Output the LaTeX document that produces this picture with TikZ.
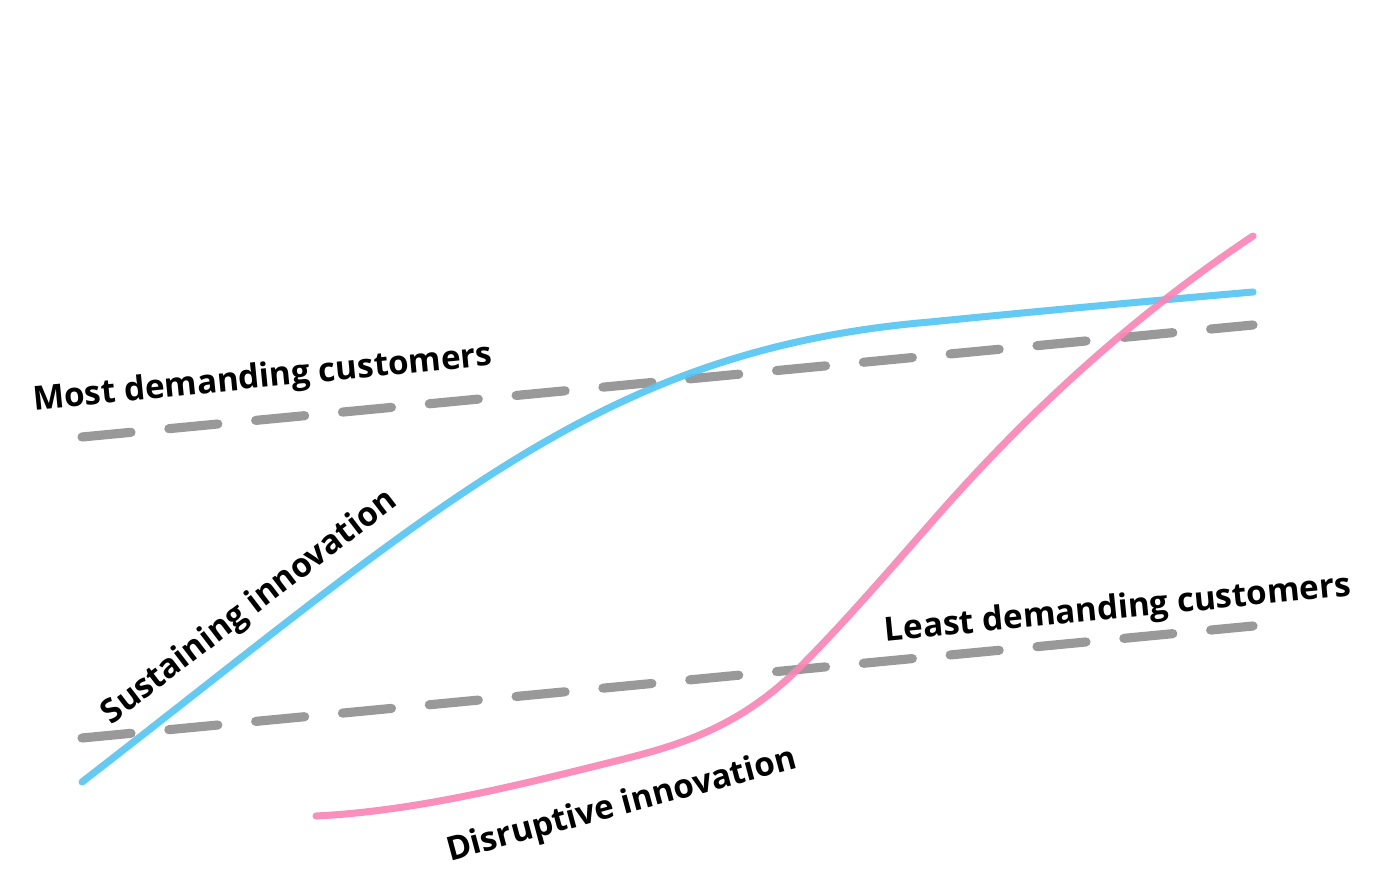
\documentclass[tikz,border=0pt]{standalone}
\usepackage{fontspec}
\setmainfont{Open Sans}
\usetikzlibrary{positioning}
\definecolor{sustblue}{HTML}{56C5F3}
\definecolor{disrpink}{HTML}{FA86B5}
\definecolor{demgray}{HTML}{999999}

\begin{document}
\begin{tikzpicture}[
    x=0.01cm, y=-0.01cm,
    every node/.style={font=\fontsize{9.45pt}{11pt}\selectfont\bfseries, inner sep=0pt},
    demand/.style={demgray, line width=2.6pt, line cap=round, dash pattern=on 14pt off 10.8pt},
    curve/.style={line width=2pt, line cap=round, opacity=0.92}
]
\useasboundingbox (0,0) rectangle (1377,895);
% customer demand lines
\coordinate (mostA) at (82,437);
\coordinate (mostB) at (1253,325);
\coordinate (leastA) at (82,738);
\coordinate (leastB) at (1253,626);
\draw[demand] (mostA) -- (mostB);
\draw[demand] (leastA) -- (leastB);
% sustaining curve
\coordinate (sustA) at (82,782);
\coordinate (sustB) at (930,322);
\coordinate (sustC) at (1253,292);
\draw[curve, sustblue] (sustA) .. controls (440,505) and (600,350) .. (sustB)
    .. controls (1040,311) and (1150,301) .. (sustC);
% disruptive curve
\coordinate (disrA) at (316,816);
\coordinate (disrB) at (620,760);
\coordinate (disrC) at (800,667);
\coordinate (disrD) at (930,524);
\coordinate (disrE) at (1253,236);
\draw[curve, disrpink] (disrA) .. controls (417,811) and (519,785) .. (disrB)
    .. controls (680,745) and (740,727) .. (disrC)
    .. controls (843,624) and (887,573) .. (disrD)
    .. controls (1038,400) and (1145,308) .. (disrE);
% labels
\node[rotate=5.6] (most) at (263,379) {Most demanding customers};
\node[rotate=5.6] (least) at (1118,610) {Least demanding customers};
\node[rotate=37.5] (sust) at (250,608) {Sustaining innovation};
\node[rotate=15] (disr) at (622,806) {Disruptive innovation};
\end{tikzpicture}
\end{document}
